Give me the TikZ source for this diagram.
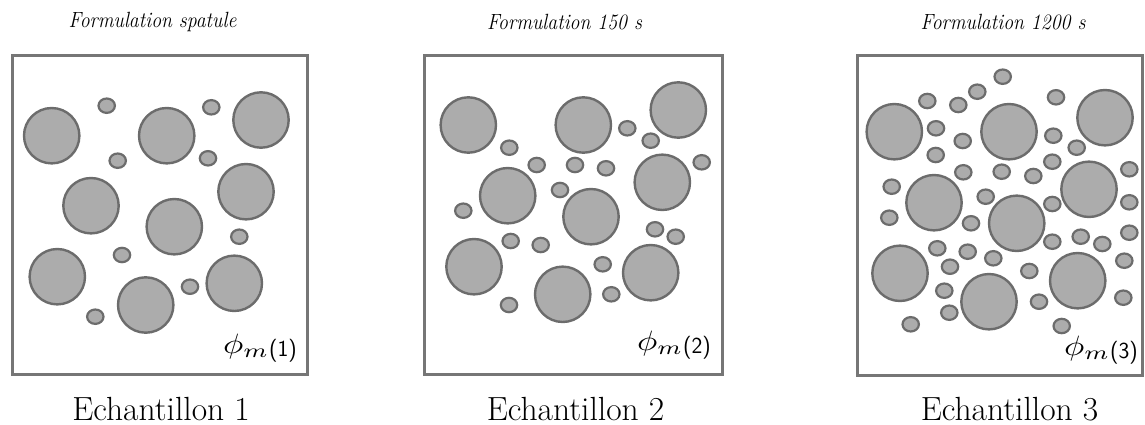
\documentclass[tikz,border=0pt]{standalone}
\usepackage{fontspec}
\begin{document}
\begin{tikzpicture}[x=1pt,y=-1pt]
\definecolor{partfill}{RGB}{172,172,172}
\definecolor{partline}{RGB}{108,108,108}
\definecolor{boxline}{RGB}{118,118,118}
\tikzset{
  boxframe/.style={draw=boxline,line width=3pt},
  bigp/.style={draw=partline,fill=partfill,line width=2.4pt},
  smallp/.style={draw=partline,fill=partfill,line width=2.2pt},
  titlelbl/.style={font=\fontsize{22}{24}\selectfont\itshape,inner sep=0pt},
  samplelbl/.style={font=\fontsize{33.5}{36}\selectfont,inner sep=0pt},
  philbl/.style={inner sep=0pt,anchor=east}
}
\newcommand{\philabel}[1]{\scalebox{3.4}[2.8]{$\phi_m$}\raisebox{-3pt}{\fontsize{23}{24}\selectfont\sffamily(#1)}}
\useasboundingbox (0,0) rectangle (1145,425);
% boxes
\draw[boxframe] (12,56) rectangle (307,374);
\draw[boxframe] (424,56) rectangle (722,374);
\draw[boxframe] (857,56) rectangle (1142,375);
% panel 1
\foreach \x/\y in {51.7/135.7,166.7/135.7,261/120,91/205.7,174.3/226.7,246/191.7,57.3/276.7,145.7/305,234.3/283.3}
  \draw[bigp] (\x,\y) circle (27.7);
\foreach \x/\y in {106.7/105.7,117.7/160.7,211.3/107.3,208/158.3,239.3/236.7,122/255,190/286.7,95.3/316.7}
  \draw[smallp] (\x,\y) ellipse (8.2 and 7.2);
% panel 2
\foreach \x/\y in {468.3/125,583.3/125,678.3/110,507.7/195.7,591/216.7,662.3/182.3,474/266.7,562.7/294.3,650.7/272.7}
  \draw[bigp] (\x,\y) circle (27.7);
\foreach \x/\y in {509.3/147.7,536.7/165,575/165,606/168.3,560/190,627.3/128.3,650.7/140.7,701.7/162.3,463.3/210.7,510.7/241,540.7/245,655/229.3,675.7/236.7,602.7/264.3,611.3/294.3,509/305}
  \draw[smallp] (\x,\y) ellipse (8.2 and 7.2);
% panel 3
\foreach \x/\y in {894.3/131.7,1009/131.7,1105/117.7,934/202.7,1016.7/223.3,1089/189.3,900/273.3,989/301.7,1077.7/280.7}
  \draw[bigp] (\x,\y) circle (27.7);
\foreach \x/\y in {1002.7/76.7,977.3/91.7,958.3/105,927.3/101,1056/97.3,936/128.3,962.7/141,935.7/155,1053.3/135.7,1076.7/147.7,1052.3/161.7,963.3/172.3,1001.7/171.7,1033.3/176,891.7/186.7,985.7/196.7,1052.3/204,1129.3/169.3,1129.3/202.3,889.3/217.7,971/223.3,1129.3/232.7,937.3/248.3,967.7/251.7,993.3/258.3,1052.3/241.7,1080.7/236.7,1102.3/244,950/266.7,1029.3/271,1124.3/260.7,944.3/290.7,949.3/312.7,1039/301.7,1123.3/297.7,910.7/324.3,1061.7/326}
  \draw[smallp] (\x,\y) ellipse (8.2 and 7.2);
% titles
\node[titlelbl] (t1) at (152.5,22) {\scalebox{0.9}[1]{Formulation spatule}};
\node[titlelbl] (t2) at (564.5,22) {\scalebox{0.9}[1]{Formulation 150 s}};
\node[titlelbl] (t3) at (1003,22) {\scalebox{0.9}[1]{Formulation 1200 s}};
% phi labels
\node[philbl] (p1) at (297,348) {\philabel{1}};
\node[philbl] (p2) at (711,345) {\philabel{2}};
\node[philbl] (p3) at (1138,350) {\philabel{3}};
% sample labels
\node[samplelbl] (s1) at (161,409) {Echantillon 1};
\node[samplelbl] (s2) at (575.5,409) {Echantillon 2};
\node[samplelbl] (s3) at (1009.5,409) {Echantillon 3};
\end{tikzpicture}
\end{document}
